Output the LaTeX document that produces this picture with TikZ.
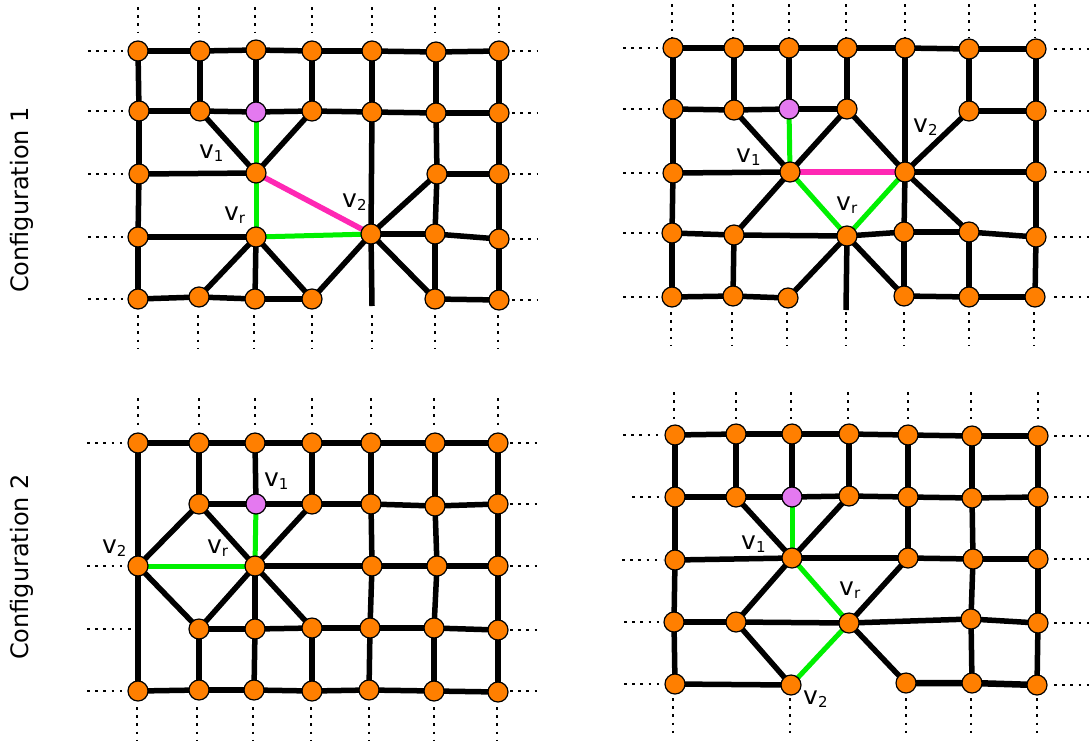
\documentclass[tikz,border=0pt]{standalone}
\usepackage{fontspec}
\setmainfont{DejaVu Sans}
\usetikzlibrary{backgrounds}
\definecolor{nodeorange}{RGB}{255,127,0}
\definecolor{nodepurple}{RGB}{228,121,240}
\definecolor{edgegreen}{RGB}{0,240,0}
\definecolor{edgepink}{RGB}{255,40,180}
\newcommand{\lsub}[1]{\raisebox{-3.5pt}{\fontsize{15}{15}\selectfont #1}}
\tikzset{
 vtx/.style={circle, fill=nodeorange, draw=black, line width=1.2pt, minimum size=20pt, inner sep=0pt},
 pvtx/.style={vtx, fill=nodepurple},
 edge/.style={line width=5.5pt, black},
 gedge/.style={line width=5pt, edgegreen},
 pedge/.style={line width=5.5pt, edgepink},
 dots/.style={line width=2.6pt, dash pattern=on 2.6pt off 5.6pt},
 lab/.style={anchor=base west, inner sep=0pt, font=\fontsize{25}{25}\selectfont},
 conf/.style={rotate=90, anchor=base, inner sep=0pt, font=\fontsize{24}{24}\selectfont}
}
\begin{document}
\begin{tikzpicture}[x=1pt, y=-1pt]
\useasboundingbox (0,0) rectangle (1091,742);
% ---------------- labels on the left
\node[conf] (conf1) at (28,200) {Configuration 1};
\node[conf] (conf2) at (28,567) {Configuration 2};

% ---------------- dotted grid continuations
% panel A
\foreach \y in {51,111,174,237,299} \draw[dots] (88,\y) -- (126,\y);
\foreach \y in {51,113,174,239,300} \draw[dots] (512,\y) -- (538,\y);
\foreach \x in {138,199,255,312,372,435,499} \draw[dots] (\x,7) -- (\x,33);
\foreach \x in {138,198,254,312,372,435,498} \draw[dots] (\x,315) -- (\x,348);
% panel B
\foreach \y in {48,109,173,233,297} \draw[dots] (623,\y) -- (661,\y);
\foreach \y in {49,111,172,237,297} \draw[dots] (1054,\y) -- (1090,\y);
\foreach \x in {672,733,789,846,905,969,1035} \draw[dots] (\x,4) -- (\x,37);
\foreach \x in {671,732,787,846,904,969,1034} \draw[dots] (\x,312) -- (\x,346);
% panel C
\foreach \y in {443,566,691} \draw[dots] (87,\y) -- (126,\y);
\draw[dots] (87,629) -- (136,629);
\foreach \y in {443,504,566,630,691} \draw[dots] (510,\y) -- (538,\y);
\foreach \x in {138,199,255,312,371,434,498} \draw[dots] (\x,398) -- (\x,426);
\foreach \x in {137,197,253,311,369,434,497} \draw[dots] (\x,707) -- (\x,741);
% panel D
\draw[dots] (623,435) -- (661,435);
\draw[dots] (632,497) -- (661,497);
\draw[dots] (622,560) -- (663,560);
\draw[dots] (624,622) -- (661,622);
\draw[dots] (624,684) -- (661,684);
\foreach \y in {436,497,559,623,685} \draw[dots] (1054,\y) -- (1090,\y);
\foreach \x in {674,736,791,848,908,971,1038} \draw[dots] (\x,392) -- (\x,419);
\foreach \x in {673,790,906,971,1037} \draw[dots] (\x,698) -- (\x,733);

% ================= PANEL A (Configuration 1, left)
\node[vtx] (a11) at (138,51) {};
\node[vtx] (a12) at (200,51) {};
\node[vtx] (a13) at (256,50) {};
\node[vtx] (a14) at (312,51) {};
\node[vtx] (a15) at (372,51) {};
\node[vtx] (a16) at (436,52) {};
\node[vtx] (a17) at (499,51) {};
\node[vtx] (a21) at (139,111) {};
\node[vtx] (a22) at (200,111) {};
\node[pvtx] (a23) at (256,112) {};
\node[vtx] (a24) at (312,111) {};
\node[vtx] (a25) at (372,112) {};
\node[vtx] (a26) at (436,113) {};
\node[vtx] (a27) at (499,113) {};
\node[vtx] (a31) at (139,174) {};
\node[vtx] (a33) at (256,173) {};
\node[vtx] (a36) at (437,174) {};
\node[vtx] (a37) at (499,174) {};
\node[vtx] (a41) at (138,237) {};
\node[vtx] (a43) at (256,237) {};
\node[vtx] (a45) at (371,234) {};
\node[vtx] (a46) at (435,234) {};
\node[vtx] (a47) at (499,239) {};
\node[vtx] (a51) at (138,299) {};
\node[vtx] (a52) at (199,297) {};
\node[vtx] (a53) at (255,299) {};
\node[vtx] (a54) at (312,299) {};
\node[vtx] (a56) at (435,299) {};
\node[vtx] (a57) at (499,300) {};
\coordinate (as) at (372,306);
\node[lab] (av1) at (199,158) {v\lsub{1}};
\node[lab] (av2) at (342,207) {v\lsub{2}};
\node[lab] (avr) at (224,220) {v\lsub{r}};

% ================= PANEL B (Configuration 1, right)
\node[vtx] (b11) at (673,48) {};
\node[vtx] (b12) at (734,48) {};
\node[vtx] (b13) at (789,48) {};
\node[vtx] (b14) at (847,48) {};
\node[vtx] (b15) at (905,48) {};
\node[vtx] (b16) at (969,49) {};
\node[vtx] (b17) at (1036,49) {};
\node[vtx] (b21) at (673,109) {};
\node[vtx] (b22) at (734,110) {};
\node[pvtx] (b23) at (789,109) {};
\node[vtx] (b24) at (847,109) {};
\node[vtx] (b26) at (969,111) {};
\node[vtx] (b27) at (1036,111) {};
\node[vtx] (b31) at (673,173) {};
\node[vtx] (b33) at (790,172) {};
\node[vtx] (b35) at (905,172) {};
\node[vtx] (b37) at (1036,172) {};
\node[vtx] (b41) at (672,233) {};
\node[vtx] (b42) at (734,235) {};
\node[vtx] (b44) at (847,236) {};
\node[vtx] (b45) at (904,232) {};
\node[vtx] (b46) at (969,232) {};
\node[vtx] (b47) at (1036,237) {};
\node[vtx] (b51) at (672,297) {};
\node[vtx] (b52) at (733,296) {};
\node[vtx] (b53) at (788,298) {};
\node[vtx] (b55) at (904,296) {};
\node[vtx] (b56) at (969,297) {};
\node[vtx] (b57) at (1035,297) {};
\coordinate (bs) at (846,310);
\node[lab] (bv1) at (736,162) {v\lsub{1}};
\node[lab] (bv2) at (913,132) {v\lsub{2}};
\node[lab] (bvr) at (836,210) {v\lsub{r}};

% ================= PANEL C (Configuration 2, left)
\node[vtx] (c11) at (138,443) {};
\node[vtx] (c12) at (199,443) {};
\node[vtx] (c13) at (255,443) {};
\node[vtx] (c14) at (312,443) {};
\node[vtx] (c15) at (371,443) {};
\node[vtx] (c16) at (435,443) {};
\node[vtx] (c17) at (498,443) {};
\node[vtx] (c22) at (199,504) {};
\node[pvtx] (c23) at (256,504) {};
\node[vtx] (c24) at (312,504) {};
\node[vtx] (c25) at (371,504) {};
\node[vtx] (c26) at (435,506) {};
\node[vtx] (c27) at (498,504) {};
\node[vtx] (c31) at (138,566) {};
\node[vtx] (c33) at (255,566) {};
\node[vtx] (c35) at (372,566) {};
\node[vtx] (c36) at (437,566) {};
\node[vtx] (c37) at (498,566) {};
\node[vtx] (c42) at (199,629) {};
\node[vtx] (c43) at (255,629) {};
\node[vtx] (c44) at (312,628) {};
\node[vtx] (c45) at (370,628) {};
\node[vtx] (c46) at (434,628) {};
\node[vtx] (c47) at (498,630) {};
\node[vtx] (c51) at (138,691) {};
\node[vtx] (c52) at (199,690) {};
\node[vtx] (c53) at (254,690) {};
\node[vtx] (c54) at (312,691) {};
\node[vtx] (c55) at (369,690) {};
\node[vtx] (c56) at (434,691) {};
\node[vtx] (c57) at (498,692) {};
\node[lab] (cv1) at (264,486) {v\lsub{1}};
\node[lab] (cv2) at (102,553) {v\lsub{2}};
\node[lab] (cvr) at (207,553) {v\lsub{r}};

% ================= PANEL D (Configuration 2, right)
\node[vtx] (d11) at (675,435) {};
\node[vtx] (d12) at (736,434) {};
\node[vtx] (d13) at (792,434) {};
\node[vtx] (d14) at (849,434) {};
\node[vtx] (d15) at (908,435) {};
\node[vtx] (d16) at (972,436) {};
\node[vtx] (d17) at (1038,436) {};
\node[vtx] (d21) at (675,497) {};
\node[vtx] (d22) at (736,497) {};
\node[pvtx] (d23) at (792,497) {};
\node[vtx] (d24) at (849,496) {};
\node[vtx] (d25) at (908,497) {};
\node[vtx] (d26) at (972,498) {};
\node[vtx] (d27) at (1038,497) {};
\node[vtx] (d31) at (675,560) {};
\node[vtx] (d33) at (792,558) {};
\node[vtx] (d35) at (908,558) {};
\node[vtx] (d36) at (973,559) {};
\node[vtx] (d37) at (1038,559) {};
\node[vtx] (d41) at (674,622) {};
\node[vtx] (d42) at (736,622) {};
\node[vtx] (d44) at (849,623) {};
\node[vtx] (d46) at (971,619) {};
\node[vtx] (d47) at (1038,623) {};
\node[vtx] (d51) at (675,684) {};
\node[vtx] (d53) at (791,685) {};
\node[vtx] (d55) at (906,683) {};
\node[vtx] (d56) at (972,683) {};
\node[vtx] (d57) at (1037,685) {};
\node[lab] (dv1) at (741,549) {v\lsub{1}};
\node[lab] (dv2) at (803,704) {v\lsub{2}};
\node[lab] (dvr) at (839,595) {v\lsub{r}};

% ================= EDGES (behind the vertices)
\begin{scope}[on background layer]
% ---- panel A
\foreach \u/\v in {a11/a12,a12/a13,a13/a14,a14/a15,a15/a16,a16/a17,
  a21/a22,a22/a23,a23/a24,a24/a25,a25/a26,a26/a27,
  a31/a33,a36/a37,a41/a43,a45/a46,a46/a47,
  a51/a52,a52/a53,a53/a54,a56/a57,
  a11/a21,a21/a31,a31/a41,a41/a51,a12/a22,a13/a23,a14/a24,a15/a25,a25/a45,
  a16/a26,a26/a36,a36/a46,a46/a56,a17/a27,a27/a37,a37/a47,a47/a57,a43/a53,
  a22/a33,a24/a33,a43/a52,a43/a54,a45/a54,a45/a36,a45/a56}
  \draw[edge] (\u.center) -- (\v.center);
\draw[edge] (a45.center) -- (as);
\draw[gedge] (a23.center) -- (a33.center);
\draw[gedge] (a33.center) -- (a43.center);
\draw[gedge] (a43.center) -- (a45.center);
\draw[pedge] (a33.center) -- (a45.center);
% ---- panel B
\foreach \u/\v in {b11/b12,b12/b13,b13/b14,b14/b15,b15/b16,b16/b17,
  b21/b22,b22/b23,b23/b24,b26/b27,
  b31/b33,b35/b37,
  b41/b42,b42/b44,b44/b45,b45/b46,b46/b47,
  b51/b52,b52/b53,b55/b56,b56/b57,
  b11/b21,b21/b31,b31/b41,b41/b51,b12/b22,b42/b52,b13/b23,b14/b24,
  b15/b35,b35/b45,b45/b55,b16/b26,b46/b56,b17/b27,b27/b37,b37/b47,b47/b57,
  b22/b33,b24/b33,b24/b35,b26/b35,b33/b42,b35/b46,b44/b53,b44/b55}
  \draw[edge] (\u.center) -- (\v.center);
\draw[edge] (b44.center) -- (bs);
\draw[gedge] (b23.center) -- (b33.center);
\draw[gedge] (b33.center) -- (b44.center);
\draw[gedge] (b35.center) -- (b44.center);
\draw[pedge] (b33.center) -- (b35.center);
% ---- panel C
\foreach \u/\v in {c11/c12,c12/c13,c13/c14,c14/c15,c15/c16,c16/c17,
  c22/c23,c23/c24,c24/c25,c25/c26,c26/c27,
  c33/c35,c35/c36,c36/c37,
  c42/c43,c43/c44,c44/c45,c45/c46,c46/c47,
  c51/c52,c52/c53,c53/c54,c54/c55,c55/c56,c56/c57,
  c11/c31,c31/c51,c12/c22,c42/c52,c13/c23,c33/c43,c43/c53,c14/c24,c44/c54,
  c15/c25,c25/c35,c35/c45,c45/c55,c16/c26,c26/c36,c36/c46,c46/c56,
  c17/c27,c27/c37,c37/c47,c47/c57,
  c31/c22,c31/c42,c22/c33,c24/c33,c33/c42,c33/c44}
  \draw[edge] (\u.center) -- (\v.center);
\draw[gedge] (c23.center) -- (c33.center);
\draw[gedge] (c31.center) -- (c33.center);
% ---- panel D
\foreach \u/\v in {d11/d12,d12/d13,d13/d14,d14/d15,d15/d16,d16/d17,
  d21/d22,d22/d23,d23/d24,d24/d25,d25/d26,d26/d27,
  d31/d33,d33/d35,d35/d36,d36/d37,
  d41/d42,d42/d44,d44/d46,d46/d47,
  d51/d53,
  d11/d21,d21/d31,d31/d41,d41/d51,d12/d22,d13/d23,d14/d24,d15/d25,d25/d35,
  d16/d26,d26/d36,d36/d46,d46/d56,d17/d27,d27/d37,d37/d47,d47/d57,
  d22/d33,d24/d33,d33/d42,d42/d53,d44/d35,d44/d55}
  \draw[edge] (\u.center) -- (\v.center);
\draw[edge, line width=6.5pt] (d55.center) -- (d56.center) -- (d57.center);
\draw[gedge] (d23.center) -- (d33.center);
\draw[gedge] (d33.center) -- (d44.center);
\draw[gedge] (d44.center) -- (d53.center);
\end{scope}
\end{tikzpicture}
\end{document}
